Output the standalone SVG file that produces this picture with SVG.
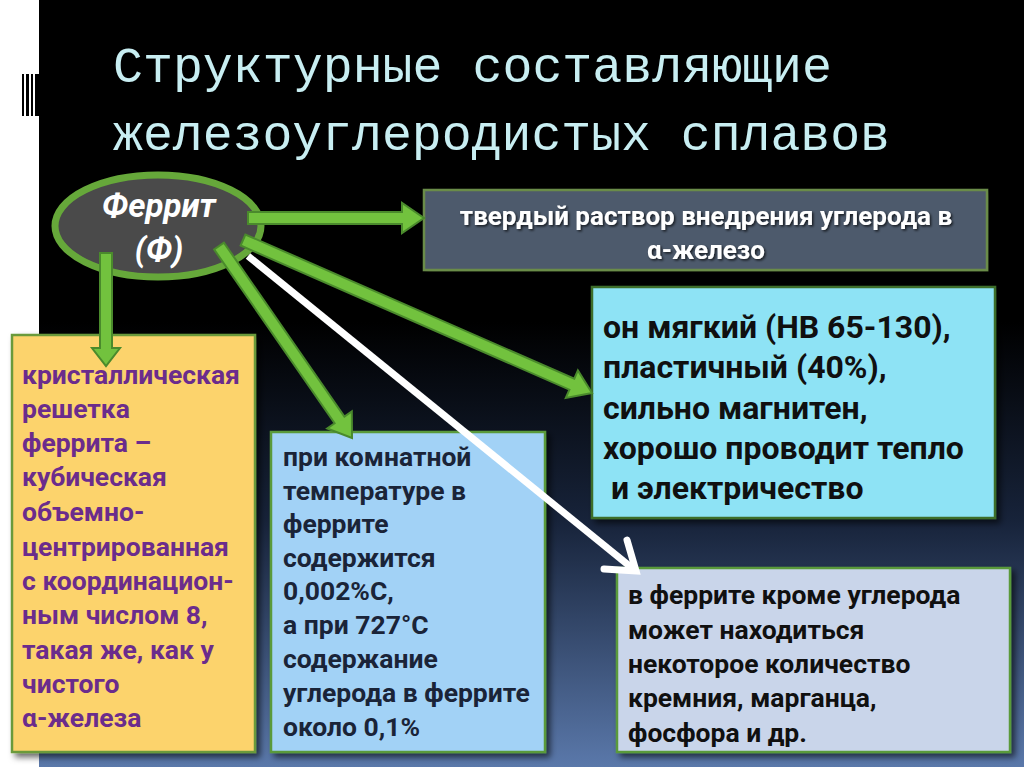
<svg xmlns="http://www.w3.org/2000/svg" width="1024" height="767" viewBox="0 0 1024 767">
<defs>
<linearGradient id="bg" x1="0" y1="0" x2="0" y2="1">
<stop offset="0" stop-color="#000000"/>
<stop offset="0.42" stop-color="#000000"/>
<stop offset="0.68" stop-color="#17233a"/>
<stop offset="1" stop-color="#5a78aa"/>
</linearGradient>
<filter id="sh" x="-10%" y="-10%" width="130%" height="130%">
<feDropShadow dx="4" dy="4" stdDeviation="3" flood-color="#000" flood-opacity="0.6"/>
</filter>
<filter id="tsh" x="-5%" y="-20%" width="110%" height="150%">
<feDropShadow dx="1.5" dy="1.5" stdDeviation="1" flood-color="#000" flood-opacity="0.7"/>
</filter>
</defs>
<style>
.box{stroke-width:2.5}
.t{font-family:Roboto,"Noto Sans",sans-serif;font-weight:bold}
.arrow{fill:#72c23e;stroke:#4a8a2c;stroke-width:2;stroke-linejoin:miter}
</style>
<rect x="0" y="0" width="1024" height="767" fill="#ffffff"/>
<rect x="39" y="0" width="985" height="767" fill="url(#bg)"/>
<g id="barcode" fill="#000">
<rect x="22" y="74" width="2" height="42"/>
<rect x="26" y="74" width="3" height="42"/>
<rect x="31" y="74" width="2" height="42"/>
<rect x="35" y="74" width="4" height="42"/>
</g>
<g id="title" fill="#c8eef2" font-family="'Liberation Mono','DejaVu Sans Mono',monospace" font-size="50">
<text x="113" y="82" textLength="719" lengthAdjust="spacingAndGlyphs">Структурные составляющие</text>
<text x="113" y="150" textLength="777" lengthAdjust="spacingAndGlyphs">железоуглеродистых сплавов</text>
</g>
<g id="ferrite">
<ellipse cx="158" cy="226" rx="103" ry="51" fill="#4a4a4a" stroke="#66a83a" stroke-width="7"/>
<text class="t" x="159" y="217" fill="#ffffff" font-size="33" font-style="italic" text-anchor="middle">Феррит</text>
<text class="t" x="159" y="261" fill="#ffffff" font-size="33" font-style="italic" text-anchor="middle">(Ф)</text>
</g>
<g id="box-solution">
<rect x="424" y="190" width="563" height="80" fill="#4e5a6c" stroke="#6a8c48" class="box" filter="url(#sh)"/>
<g class="t" fill="#ffffff" font-size="26" text-anchor="middle" filter="url(#tsh)">
<text x="706" y="225">твердый раствор внедрения углерода в</text>
<text x="706" y="259">α-железо</text>
</g>
</g>
<g id="box-properties">
<rect x="592" y="287" width="403" height="231" fill="#8ee3f5" stroke="#3d6e2c" class="box" filter="url(#sh)"/>
<g class="t" fill="#101010" font-size="32">
<text x="603" y="338">он мягкий (НВ 65-130),</text>
<text x="603" y="378">пластичный (40%),</text>
<text x="603" y="419">сильно магнитен,</text>
<text x="603" y="459">хорошо проводит тепло</text>
<text x="611" y="499">и электричество</text>
</g>
</g>
<g id="box-lattice">
<rect x="12" y="335" width="243" height="417" fill="#fcd36c" stroke="#6a9a3a" class="box" filter="url(#sh)"/>
<g class="t" fill="#6b2c8c" font-size="26.5">
<text x="22" y="384">кристаллическая</text>
<text x="22" y="418">решетка</text>
<text x="22" y="452">феррита –</text>
<text x="22" y="486">кубическая</text>
<text x="22" y="521">объемно-</text>
<text x="22" y="556">центрированная</text>
<text x="22" y="590">с координацион-</text>
<text x="22" y="624">ным числом 8,</text>
<text x="22" y="659">такая же, как у</text>
<text x="22" y="693">чистого</text>
<text x="22" y="727">α-железа</text>
</g>
</g>
<g id="box-carbon">
<rect x="271" y="432" width="274" height="320" fill="#a2d2f6" stroke="#5a9a3a" class="box" filter="url(#sh)"/>
<g class="t" fill="#1a2438" font-size="26.5">
<text x="283" y="466">при комнатной</text>
<text x="283" y="500">температуре в</text>
<text x="283" y="533">феррите</text>
<text x="283" y="567">содержится</text>
<text x="283" y="600">0,002%С,</text>
<text x="283" y="634">а при 727°С</text>
<text x="283" y="668">содержание</text>
<text x="283" y="702">углерода в феррите</text>
<text x="283" y="736">около 0,1%</text>
</g>
</g>
<g id="box-impurities">
<rect x="617" y="568" width="393" height="184" fill="#c9d5ea" stroke="#5a9a3a" class="box" filter="url(#sh)"/>
<g class="t" fill="#101010" font-size="26.5">
<text x="628" y="604">в феррите кроме углерода</text>
<text x="628" y="639">может находиться</text>
<text x="628" y="673">некоторое количество</text>
<text x="628" y="707">кремния, марганца,</text>
<text x="628" y="742">фосфора и др.</text>
</g>
</g>
<g id="connectors">
<polygon class="arrow" points="248,212 402,212 402,203 424,218 402,233 402,224 248,224"/>
<polygon class="arrow" points="100,253 100,348 92,348 106,366 120,348 112,348 112,253"/>
<polygon class="arrow" points="214.1,249.4 334.6,423.3 327.2,428.5 352,438 351.8,411.4 344.4,416.5 223.9,242.6"/>
<polygon class="arrow" points="240.6,245.5 569.4,389.7 565.8,397.9 592,393 577.9,370.4 574.3,378.7 245.4,234.5"/>
<path d="M248,256 L632,568" stroke="#ffffff" stroke-width="7" fill="none"/>
<path d="M627,540 L636,571 L604,569" stroke="#ffffff" stroke-width="7" fill="none" stroke-linejoin="miter" stroke-linecap="round"/>
</g>
</svg>
